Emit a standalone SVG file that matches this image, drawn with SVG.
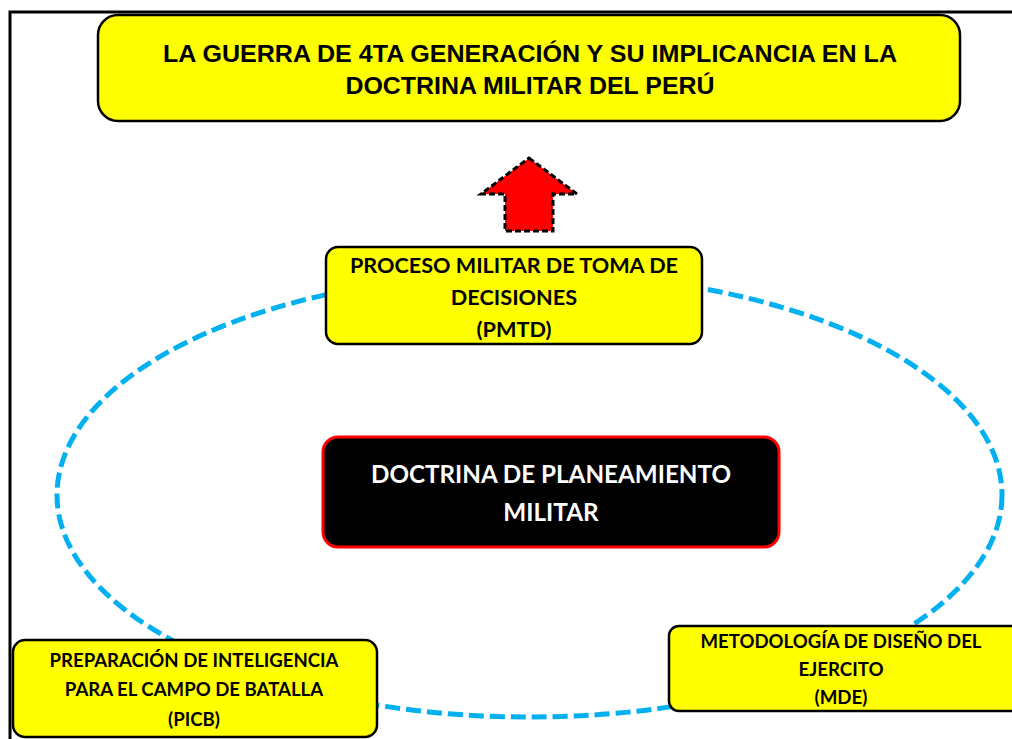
<svg xmlns="http://www.w3.org/2000/svg" width="1012" height="739" viewBox="0 0 1012 739">
<style>
.box{fill:#ffff00;stroke:#000;stroke-width:2.5}
.t{font-family:"Lato","Noto Sans",sans-serif;font-weight:bold;fill:#000;text-anchor:middle}
.title{font-family:"Liberation Sans",Arial,sans-serif;font-weight:bold;font-size:24px;fill:#000;text-anchor:middle}
</style>
<rect x="0" y="0" width="1012" height="739" fill="#fff"/>
<rect x="10" y="12" width="1100" height="800" fill="none" stroke="#000" stroke-width="3"/>
<g id="connectors">
<ellipse cx="529.5" cy="495" rx="472.5" ry="222" fill="none" stroke="#00b0f0" stroke-width="5" stroke-dasharray="15 6"/>
<polygon points="529,158 577,194 553,194 553,231 505,231 505,194 481,194" fill="#ff0000" stroke="#000" stroke-width="3" stroke-dasharray="6 3" stroke-linejoin="miter"/>
</g>
<g id="title">
<rect class="box" x="98" y="15" width="862" height="106" rx="20"/>
<text class="title" x="530" y="62" textLength="734" lengthAdjust="spacingAndGlyphs">LA GUERRA DE 4TA GENERACIÓN Y SU IMPLICANCIA EN LA</text>
<text class="title" x="530" y="94" textLength="369" lengthAdjust="spacingAndGlyphs">DOCTRINA MILITAR DEL PERÚ</text>
</g>
<g id="pmtd">
<rect class="box" x="326" y="247" width="376" height="97" rx="12"/>
<text class="t" font-size="21.7" x="514" y="273" textLength="328" lengthAdjust="spacingAndGlyphs">PROCESO MILITAR DE TOMA DE</text>
<text class="t" font-size="21.7" x="514" y="305">DECISIONES</text>
<text class="t" font-size="21.7" x="514" y="337">(PMTD)</text>
</g>
<g id="doctrina">
<rect x="323" y="437" width="456" height="110" rx="15" fill="#000" stroke="#ff0000" stroke-width="3"/>
<text class="t" font-size="24.3" x="551" y="483" style="fill:#fff" textLength="360" lengthAdjust="spacingAndGlyphs">DOCTRINA DE PLANEAMIENTO</text>
<text class="t" font-size="24.3" x="551" y="521" style="fill:#fff">MILITAR</text>
</g>
<g id="picb">
<rect class="box" x="13" y="640" width="364" height="97" rx="12"/>
<text class="t" font-size="18.6" x="194" y="667" textLength="289" lengthAdjust="spacingAndGlyphs">PREPARACIÓN DE INTELIGENCIA</text>
<text class="t" font-size="18.6" x="194" y="696">PARA EL CAMPO DE BATALLA</text>
<text class="t" font-size="18.6" x="194" y="726">(PICB)</text>
</g>
<g id="mde">
<rect class="box" x="669" y="626" width="360" height="85" rx="10"/>
<text class="t" font-size="18.7" x="841" y="648" textLength="281" lengthAdjust="spacingAndGlyphs">METODOLOGÍA DE DISEÑO DEL</text>
<text class="t" font-size="18.7" x="841" y="676">EJERCITO</text>
<text class="t" font-size="18.7" x="841" y="704">(MDE)</text>
</g>
</svg>
